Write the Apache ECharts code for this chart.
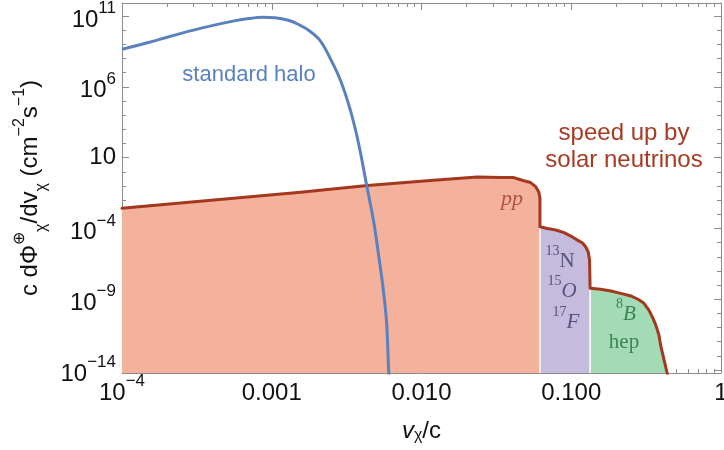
<!DOCTYPE html>
<html><head><meta charset="utf-8">
<script src="https://cdn.jsdelivr.net/npm/echarts@6/dist/echarts.min.js"></script>
<style>html,body{margin:0;padding:0;background:#fff}#c{width:724px;height:450px}</style>
</head><body><div id="c"></div>
<script>
// ---------- data (v = v_chi/c, flux in cm^-2 s^-1) ----------
const haloV    = [1e-4, 1.5e-4, 2e-4, 3.33e-4, 5.5e-4, 7e-4, 8.8e-4, 1.05e-3, 1.29e-3, 1.5e-3, 1.76e-3, 2.11e-3, 2.47e-3, 2.88e-3, 3.36e-3, 3.8e-3, 4.3e-3, 4.81e-3, 5.19e-3, 5.56e-3, 5.85e-3, 6.05e-3, 6.3e-3];
const haloFlux = [4.47e8, 1.35e9, 3.16e9, 1.35e10, 4.37e10, 6.6e10, 8.13e10, 7.59e10, 5.0e10, 2.63e10, 1.0e10, 1.78e9, 9.1e7, 2.8e6, 2.0e4, 100, 0.117, 2.4e-4, 1.0e-6, 4.5e-9, 2.1e-11, 6.3e-15, 1e-17];

const ppV    = [1e-4, 1.556e-3, 4.35e-3, 0.01205, 0.0236, 0.0338, 0.0413, 0.0483, 0.0535, 0.0579, 0.0607, 0.0618, 0.0618];
const ppFlux = [2.63e-3, 0.0355, 0.107, 0.251, 0.427, 0.398, 0.389, 0.234, 0.174, 0.0891, 0.0372, 0.0141, 1.32e-4];

const cnoV    = [0.0618, 0.0693, 0.0788, 0.0895, 0.0993, 0.110, 0.119, 0.125, 0.130, 0.1325, 0.1336];
const cnoFlux = [1.32e-4, 1.0e-4, 7.8e-5, 5.1e-5, 2.9e-5, 1.5e-5, 9.3e-6, 4.9e-6, 2.1e-6, 5.9e-7, 5.9e-9];

const b8V    = [0.1336, 0.157, 0.184, 0.214, 0.250, 0.279, 0.305, 0.330, 0.351, 0.367, 0.385, 0.397, 0.417, 0.440, 0.45];
const b8Flux = [5.9e-9, 5.0e-9, 3.8e-9, 2.6e-9, 1.7e-9, 1.0e-9, 5.4e-10, 1.7e-10, 4.7e-11, 1.5e-11, 3.0e-12, 4.5e-13, 5.1e-14, 4.5e-15, 8.7e-16];

const xTickValues = [1e-4, 1e-3, 1e-2, 1e-1, 1];
const xTickLabels = ['10^−4', '0.001', '0.010', '0.100', '1'];
const yTickValues = [1e-14, 1e-9, 1e-4, 10, 1e6, 1e11];
const yTickLabels = ['10^−14', '10^−9', '10^−4', '10', '10^6', '10^11'];
const xRange = [1e-4, 1];
const yRange = [6.2e-15, 8.3e11];

// ---------- helpers ----------
const L = Math.log10;
const pts = (vs, fs) => vs.map((v, i) => [L(v), L(fs[i])]);
const yMin = L(yRange[0]), yMax = L(yRange[1]);
const xMin = L(xRange[0]), xMax = L(xRange[1]);

const xMajor = xTickValues.map(L);
const yMajor = yTickValues.map(L);
const xMinor = [];
for (let n = Math.round(xMin); n < Math.round(xMax); n++) for (let k = 2; k <= 9; k++) xMinor.push(n + L(k));
const yMinor = [];
for (let n = Math.ceil(yMin); n <= Math.floor(yMax); n++) if (!yMajor.some(m => Math.abs(m - n) < 1e-9)) yMinor.push(n);

function richLabel(txt, b, s, plain) {
  const p = txt.split('^');
  return p.length > 1 ? '{' + b + '|' + p[0] + '}{' + s + '|' + p[1] + '}' : '{' + plain + '|' + p[0] + '}';
}
function nearestIdx(arr, v) { let bi = 0; arr.forEach((a, i) => { if (Math.abs(a - v) < Math.abs(arr[bi] - v)) bi = i; }); return bi; }

const FRAME = '#8c8c8c';
const INK = '#111111';
const SANS = '"Liberation Sans", Arial, sans-serif';
const SERIF = '"Liberation Serif", "Times New Roman", serif';

const xRich = {
  xb: { fontSize: 24, padding: [8, 0, 0, 0], verticalAlign: 'bottom', fontFamily: SANS, color: INK },
  xs: { fontSize: 17, verticalAlign: 'top', fontFamily: SANS, color: INK }
};
const yRich = {
  yb: { fontSize: 24, padding: [8, 0, 0, 0], verticalAlign: 'bottom', fontFamily: SANS, color: INK },
  yc: { fontSize: 24, verticalAlign: 'middle', fontFamily: SANS, color: INK },
  ys: { fontSize: 17, verticalAlign: 'top', fontFamily: SANS, color: INK }
};

function mkX(pos, custom, len, labels, line) {
  return {
    type: 'value', position: pos, min: xMin, max: xMax,
    axisLine: { show: line, onZero: false, lineStyle: { color: FRAME, width: 1 } },
    axisTick: { show: true, inside: true, length: len, customValues: custom, lineStyle: { color: FRAME, width: 1 } },
    axisLabel: labels ? {
      show: true, customValues: custom, margin: 0, rich: xRich,
      formatter: v => richLabel(xTickLabels[nearestIdx(xMajor, v)], 'xb', 'xs', 'xb')
    } : { show: false },
    splitLine: { show: false }
  };
}
function mkY(pos, custom, len, labels, line) {
  return {
    type: 'value', position: pos, min: yMin, max: yMax,
    axisLine: { show: line, onZero: false, lineStyle: { color: FRAME, width: 1 } },
    axisTick: { show: true, inside: true, length: len, customValues: custom, lineStyle: { color: FRAME, width: 1 } },
    axisLabel: labels ? {
      show: true, customValues: custom, margin: 6, rich: yRich,
      formatter: v => richLabel(yTickLabels[nearestIdx(yMajor, v)], 'yb', 'ys', 'yc')
    } : { show: false },
    splitLine: { show: false }
  };
}

const xAxes = [mkX('bottom', xMajor, 7, true, true), mkX('bottom', xMinor, 4, false, false), mkX('top', xMajor, 7, false, true), mkX('top', xMinor, 4, false, false)];
xAxes[0].name = '{it|v}{sub|χ}{b|/c}';
xAxes[0].nameLocation = 'middle';
xAxes[0].nameGap = 46;
xAxes[0].nameTextStyle = { rich: {
  it: { fontSize: 24, fontStyle: 'italic', fontFamily: SANS, color: INK, verticalAlign: 'top' },
  b: { fontSize: 24, fontFamily: SANS, color: INK, verticalAlign: 'top' },
  sub: { fontSize: 16, fontFamily: SANS, color: INK, padding: [9, 0, 0, 0], verticalAlign: 'top' }
} };

const yAxes = [mkY('left', yMajor, 7, true, true), mkY('left', yMinor, 4, false, false), mkY('right', yMajor, 7, false, true), mkY('right', yMinor, 4, false, false)];
yAxes[0].name = '{b|c dΦ}{sup|⊕}{sub|χ}{b|/dv}{sub|χ}{b| (cm}{sup|−2}{b|s}{sup|−1}{b|)}';
yAxes[0].nameLocation = 'middle';
yAxes[0].nameGap = 70;
yAxes[0].nameTextStyle = { rich: {
  b: { fontSize: 24, padding: [7, 0, 7, 0], verticalAlign: 'middle', fontFamily: SANS, color: INK },
  sup: { fontSize: 16, verticalAlign: 'top', fontFamily: SANS, color: INK },
  sub: { fontSize: 16, verticalAlign: 'bottom', fontFamily: SANS, color: INK }
} };

const areaSeries = (data, color) => ({
  type: 'line', data, symbol: 'none', silent: true, z: 1,
  lineStyle: { width: 0, opacity: 0 }, areaStyle: { color, opacity: 1, origin: 'start' }
});
const sepSeries = (v, f) => ({
  type: 'line', data: [[L(v), yMin], [L(v), L(f)]], symbol: 'none', silent: true, z: 2,
  lineStyle: { color: '#ffffff', width: 1.5 }
});

const redLine = pts(ppV, ppFlux).concat(pts(cnoV, cnoFlux).slice(1), pts(b8V, b8Flux).slice(1));

const option = {
  animation: false,
  backgroundColor: '#ffffff',
  grid: { left: 122, right: 3, top: 3, bottom: 77, containLabel: false, outerBoundsMode: 'none' },
  xAxis: xAxes,
  yAxis: yAxes,
  series: [
    areaSeries(pts(ppV, ppFlux), '#f4b19b'),
    areaSeries(pts(cnoV, cnoFlux), '#c5bcdd'),
    areaSeries(pts(b8V, b8Flux), '#a3dbb6'),
    sepSeries(cnoV[0], cnoFlux[0]),
    sepSeries(b8V[0], b8Flux[0]),
    { type: 'line', data: redLine, symbol: 'none', silent: true, z: 3,
      lineStyle: { color: '#a3381f', width: 3, join: 'round', cap: 'round' } },
    { type: 'line', data: pts(haloV, haloFlux), symbol: 'none', silent: true, z: 4,
      smooth: 0.35,
      lineStyle: { color: '#5a81bf', width: 3, join: 'round' } }
  ],
  graphic: [
    { type: 'text', x: 249, y: 75, z: 10, style: { text: 'standard halo', fill: '#5a81bf', font: '22px ' + SANS, align: 'center', verticalAlign: 'middle' } },
    { type: 'text', x: 624, y: 133, z: 10, style: { text: 'speed up by', fill: '#a63a22', font: '24px ' + SANS, align: 'center', verticalAlign: 'middle' } },
    { type: 'text', x: 624, y: 160, z: 10, style: { text: 'solar neutrinos', fill: '#a63a22', font: '24px ' + SANS, align: 'center', verticalAlign: 'middle' } },
    { type: 'text', x: 512, y: 199, z: 10, style: { text: 'pp', fill: '#b0533b', font: 'italic 22px ' + SERIF, align: 'center', verticalAlign: 'middle' } },
    { type: 'text', x: 560, y: 258, z: 10, style: { text: '{s|13}{b|N}', align: 'center', verticalAlign: 'middle', rich: {
      s: { fontSize: 14, verticalAlign: 'top', fontFamily: SERIF, fill: '#57537f', color: '#57537f' },
      b: { fontSize: 21, padding: [6, 0, 0, 0], verticalAlign: 'bottom', fontFamily: SERIF, fill: '#57537f', color: '#57537f' } } } },
    { type: 'text', x: 562, y: 288, z: 10, style: { text: '{s|15}{b|O}', align: 'center', verticalAlign: 'middle', rich: {
      s: { fontSize: 14, verticalAlign: 'top', fontFamily: SERIF, fill: '#57537f', color: '#57537f' },
      b: { fontSize: 21, padding: [6, 0, 0, 0], verticalAlign: 'bottom', fontStyle: 'italic', fontFamily: SERIF, fill: '#57537f', color: '#57537f' } } } },
    { type: 'text', x: 566, y: 319, z: 10, style: { text: '{s|17}{b|F}', align: 'center', verticalAlign: 'middle', rich: {
      s: { fontSize: 14, verticalAlign: 'top', fontFamily: SERIF, fill: '#57537f', color: '#57537f' },
      b: { fontSize: 21, padding: [6, 0, 0, 0], verticalAlign: 'bottom', fontStyle: 'italic', fontFamily: SERIF, fill: '#57537f', color: '#57537f' } } } },
    { type: 'text', x: 626, y: 311, z: 10, style: { text: '{s|8}{b|B}', align: 'center', verticalAlign: 'middle', rich: {
      s: { fontSize: 14, verticalAlign: 'top', fontFamily: SERIF, fill: '#3c8552', color: '#3c8552' },
      b: { fontSize: 21, padding: [6, 0, 0, 0], verticalAlign: 'bottom', fontStyle: 'italic', fontFamily: SERIF, fill: '#3c8552', color: '#3c8552' } } } },
    { type: 'text', x: 624, y: 342, z: 10, style: { text: 'hep', fill: '#3c8552', font: '21px ' + SERIF, align: 'center', verticalAlign: 'middle' } }
  ]
};

const chart = echarts.init(document.getElementById('c'), null, { renderer: 'canvas' });
chart.setOption(option);
</script>
</body></html>
